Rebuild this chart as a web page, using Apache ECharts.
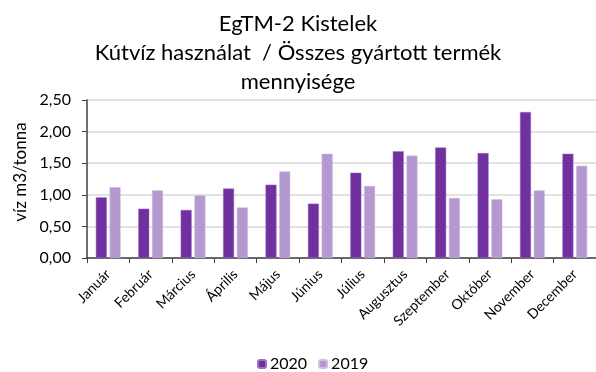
<!DOCTYPE html>
<html>
<head>
<meta charset="utf-8">
<script src="https://cdn.jsdelivr.net/npm/echarts@6/dist/echarts.min.js"></script>
<style>
  html, body { margin: 0; padding: 0; background: #fff; }
  #chart { width: 596px; height: 372px; }
</style>
</head>
<body>
<div id="chart"></div>
<script>
// Monthly well-water use per tonne of finished product
const months = ['Január', 'Február', 'Március', 'Április', 'Május', 'Június',
                'Július', 'Augusztus', 'Szeptember', 'Október', 'November', 'December'];
const values2020 = [0.96, 0.78, 0.76, 1.10, 1.16, 0.86, 1.35, 1.69, 1.75, 1.66, 2.31, 1.65];
const values2019 = [1.12, 1.07, 0.99, 0.80, 1.37, 1.65, 1.14, 1.62, 0.95, 0.93, 1.07, 1.46];
const yTicks = ['0,00', '0,50', '1,00', '1,50', '2,00', '2,50'];

const font = 'Lato, "Open Sans", sans-serif';
const chart = echarts.init(document.getElementById('chart'), null, { renderer: 'canvas' });

chart.setOption({
  animation: false,
  title: {
    text: 'EgTM-2 Kistelek\nKútvíz használat  / Összes gyártott termék\nmennyisége',
    left: 'center',
    top: 4,
    textStyle: { fontFamily: font, fontSize: 22, fontWeight: 'normal', color: '#000', lineHeight: 29 }
  },
  legend: {
    bottom: -5,
    left: 252,
    itemWidth: 8,
    itemHeight: 8,
    itemGap: 11,
    textStyle: { fontFamily: font, fontSize: 16, color: '#000', padding: [0, 0, 0, -1] },
    data: ['2020', '2019']
  },
  grid: { left: 87, right: -4, top: 100, bottom: 114 },
  xAxis: {
    type: 'category',
    data: months,
    axisLine: { lineStyle: { color: '#404040', width: 1.5 } },
    axisTick: { show: true, length: 5, lineStyle: { color: '#404040' } },
    axisLabel: { rotate: 45, interval: 0, fontFamily: font, fontSize: 14, color: '#000', margin: 14 }
  },
  yAxis: {
    type: 'value',
    min: 0,
    max: 2.5,
    interval: 0.5,
    name: 'víz m3/tonna',
    nameLocation: 'middle',
    nameGap: 52,
    nameTextStyle: { fontFamily: font, fontSize: 17, color: '#000', padding: [0, 0, 0, 14] },
    axisLine: { show: true, lineStyle: { color: '#404040', width: 1.5 } },
    axisTick: { show: true, length: 5, inside: false, lineStyle: { color: '#404040' } },
    splitLine: { lineStyle: { color: '#d9d9d9', width: 1.5 } },
    axisLabel: {
      fontFamily: font, fontSize: 16, color: '#000', margin: 16,
      formatter: v => yTicks[Math.round(v / 0.5)]
    }
  },
  series: [
    {
      name: '2020', type: 'bar', data: values2020,
      barWidth: 11, barGap: '25%',
      itemStyle: { color: '#7030a0', borderColor: '#9a70c0', borderWidth: 0.5 }
    },
    {
      name: '2019', type: 'bar', data: values2019,
      barWidth: 11,
      itemStyle: { color: '#b498d0', borderColor: '#d0bce4', borderWidth: 0.5 }
    }
  ]
});
</script>
</body>
</html>
